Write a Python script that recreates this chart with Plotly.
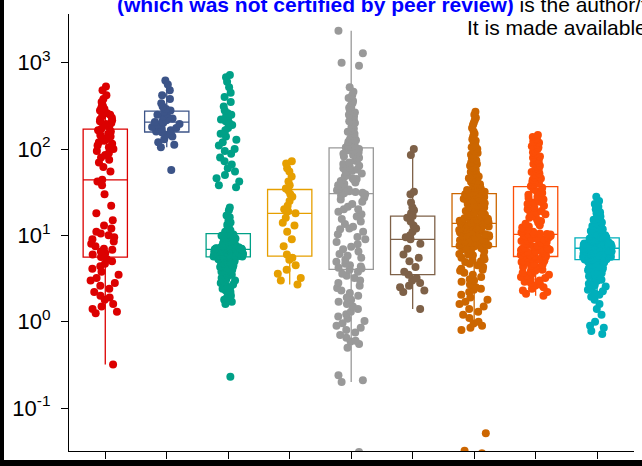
import numpy as np
import plotly.graph_objects as go

# ---------------- data ----------------
groups = ["G1", "G2", "G3", "G4", "G5", "G6", "G7", "G8", "G9"]
colors = ["#DC0000", "#3C5488", "#00A087", "#E69F00", "#999999",
          "#7E6148", "#CC6600", "#FC4E07", "#00AFBB"]

red_vals = [530, 480, 420, 380, 350, 330, 310, 300, 290, 280, 270, 260, 250, 240, 230, 220, 215, 210, 200, 195, 190, 180,
            170, 165, 160, 150, 145, 140, 135, 130, 125, 120, 115, 110, 105, 100, 95, 90, 85, 80, 75, 70, 62, 55, 44,
            42, 38, 30, 22, 18, 15, 13, 12, 11, 10.5, 10, 9.5, 9, 8.5, 8, 7.5, 7, 6.8, 6.5, 6.2, 6, 5.6, 5.3,
            5.0, 4.7, 4.4, 4.1, 3.8, 3.5, 3.2, 3.0, 2.8, 2.6, 2.4, 2.2, 2.0, 1.9, 1.8, 1.6, 1.5, 1.4, 1.3, 1.25, 0.32]

navy_vals = [620, 560, 480, 420, 380, 340, 310, 290, 280, 270, 260, 250, 240, 230, 225, 215, 210, 205, 200, 195,
             190, 180, 175, 170, 165, 160, 155, 150, 145, 140, 130, 120, 112, 105, 57]

green_upper_vals = [720, 680, 600, 520, 450, 400, 350, 310, 280, 260, 250, 240, 230, 220, 210, 200, 190, 175, 165,
                    150, 140, 128, 120, 110, 100, 95, 88, 80, 72, 66, 60, 55, 50, 46, 42, 38, 36]

green_main_vals = [21, 19.5, 17, 16.2, 15, 14.1, 13.3, 12.6, 12, 11.4, 11, 10.6,
                   10.3, 10.1, 9.9, 9.8, 9.6, 9.4, 9.3, 9.1, 9.0, 8.8, 8.7, 8.6, 8.4, 8.3, 8.2, 8.0, 7.9, 7.8, 7.7,
                   7.6, 7.55, 7.5, 7.4, 7.35, 7.3, 7.2, 7.15, 7.1, 7.05, 7.0, 7.0, 6.95, 6.9, 6.9, 6.92,
                   10.4, 10.2, 9.7, 9.5, 9.2, 8.9, 8.5, 8.1, 7.85, 7.65, 7.45, 7.25, 7.08, 6.97,
                   6.88, 6.85, 6.8, 6.78, 6.75, 6.7, 6.65, 6.6, 6.58, 6.55, 6.5, 6.45, 6.4, 6.38, 6.35, 6.3, 6.25,
                   6.2, 6.18, 6.15, 6.1, 6.05, 6.0, 5.98, 5.95, 5.92, 5.9, 5.88, 5.85, 5.82, 5.8, 5.78, 5.75, 5.72,
                   5.7, 5.68, 5.67, 5.66, 5.9, 6.1, 6.3, 6.6, 6.72, 6.48, 6.22, 6.02, 5.86, 5.74, 5.69,
                   5.6, 5.5, 5.4, 5.3, 5.2, 5.1, 5.0, 4.9, 4.8, 4.7, 4.6, 4.5, 4.4, 4.3, 4.2, 4.1, 4.0, 3.9, 3.8,
                   3.7, 3.6, 3.5, 3.4, 3.3, 3.2, 3.1, 3.0, 2.9, 2.8, 2.7, 2.6, 2.5, 2.4, 2.3, 2.2, 2.1, 2.0, 1.9,
                   1.8, 1.7, 1.6, 5.55, 5.45, 5.25, 5.05, 4.75, 4.35, 3.95,
                   0.23]

yellow_vals = [72, 68, 60, 55, 48, 42, 38, 35, 33, 30, 28, 25, 22, 20, 19, 18, 16, 14, 13, 11, 9, 7.5, 6, 5.5,
               5.2, 4.5, 4, 3.6, 3.2, 3, 2.7]

gray_top_vals = [2350, 1290, 1000, 920]

gray_vals = [520, 460, 420, 390, 360, 340, 320, 300, 280, 265, 250, 235, 220, 210, 200, 190,
             180, 172, 165, 158, 150, 143, 137, 131, 126, 121, 117, 113, 110, 108, 107, 300, 240,
             104, 100, 97, 94, 91, 88, 85, 82, 79, 76, 73, 70, 67, 64, 61, 58, 56, 54, 52, 50, 48, 46, 44, 42.5,
             41, 39.5, 38, 37, 36, 35, 34, 33.2, 32.5, 31.8, 31.2, 30.8, 60, 45,
             30, 29, 27.5, 26, 24.5, 23, 21.5, 20, 18.8, 17.6, 16.5, 15.5, 14.5, 13.5, 12.6, 11.8, 11, 10.3, 9.6, 9,
             8.4, 7.9, 7.4, 6.9, 6.5, 6.1, 5.8, 5.5, 5.2, 4.95, 4.7, 4.5, 4.35, 4.2, 4.12, 12, 20,
             4.0, 3.8, 3.6, 3.4, 3.2, 3.0, 2.8, 2.6, 2.45, 2.3, 2.15, 2.0, 1.9, 1.8, 1.7, 1.6, 1.5, 1.4, 1.3, 1.22,
             1.15, 1.08, 1.02, 0.96, 0.9, 0.85, 0.8, 0.75, 0.7, 0.65, 0.6, 0.59, 0.55, 0.5, 0.24, 0.21, 0.2, 0.031]

brown_vals = [1.4, 2.2, 2.3, 2.5, 2.6, 2.8, 3.0, 3.2, 3.5, 3.8, 4.3, 5, 5.5, 6, 7, 8, 9, 9.5, 10, 11, 12, 13,
              14.5, 16, 16.7, 18, 19.5, 21, 24, 30, 32, 85, 100]

orange_vals = [270, 250, 230, 215, 200, 190, 175, 160, 150, 140, 130, 125, 118, 110, 105, 100, 95, 90, 86, 82, 78,
               74, 70, 67, 64, 61, 58, 56, 54, 52, 50, 48, 46, 44.5, 43, 41.5, 40, 39, 38, 37, 36, 35, 34.2, 33.5,
               33, 32.4, 32, 31.5, 31, 30.8,
               30.4, 30, 29.5, 29, 28.4, 27.8, 27.2, 26.6, 26, 25.5, 25, 24.4, 24, 23.5, 23, 22.5, 22, 21.6, 21.2,
               20.8, 20.4, 20, 19.6, 19.2, 18.8, 18.4, 18, 17.7, 17.4, 17.1, 16.8, 16.5, 16.2, 16, 15.8, 15.6, 15.4,
               15.2, 15, 14.8, 14.6, 14.4, 14.2, 14.1, 14, 13.9, 13.85, 17, 21, 26,
               13.7, 13.5, 13.3, 13.1, 12.9, 12.7, 12.5, 12.3, 12.1, 11.9, 11.7, 11.5, 11.3, 11.1, 10.9, 10.7, 10.5,
               10.3, 10.1, 9.9, 9.7, 9.5, 9.3, 9.1, 8.9, 8.8, 8.7, 8.6, 8.5, 8.4, 8.3, 8.2, 8.1, 8.0, 7.9, 7.8, 7.7,
               7.6, 7.5, 7.45, 9, 10, 11, 12, 13, 9.6, 10.8, 11.6, 12.4, 8.25,
               7.3, 7.1, 6.9, 6.7, 6.5, 6.3, 6.1, 5.9, 5.7, 5.5, 5.3, 5.1, 4.9, 4.7, 4.5, 4.3, 4.1, 3.9, 3.7, 3.5,
               3.3, 3.1, 2.9, 2.7, 2.5, 2.35, 2.2, 2.05, 1.9, 1.8, 1.7, 1.6, 1.5, 1.4, 1.3, 1.2, 1.1, 1.0, 0.95,
               0.9, 0.85, 0.8, 6.0, 5.0, 4.0, 3.0, 0.051, 0.032, 0.03, 2.4]

orangered_vals = [145, 138, 132, 128, 122, 118, 112, 108, 104, 100, 96, 92, 88, 85, 82, 79, 76, 73, 70, 67, 64, 62,
                  60, 58, 56, 54, 52, 50, 48.5, 47, 45.5, 44, 42.5, 41.5, 40.5, 39.5, 38.5,
                  37, 35.5, 34, 32.5, 31, 29.5, 28, 27, 26, 25, 24, 23, 22, 21, 20, 19.2, 18.4, 17.6, 16.8, 16, 15.3,
                  14.7, 14.1, 13.6, 13.1, 12.7, 12.3, 11.9, 11.6, 11.3, 11, 10.8, 10.6, 10.5, 10.4, 10.35, 24.5, 18,
                  10.2, 10.0, 9.8, 9.6, 9.4, 9.2, 9.0, 8.8, 8.6, 8.4, 8.2, 8.0, 7.8, 7.6, 7.4, 7.2, 7.0, 6.9, 6.8,
                  6.7, 6.6, 6.5, 6.4, 6.3, 6.2, 6.1, 6.0, 5.95, 5.9, 5.85, 5.8, 5.75, 5.7, 5.68, 9.1, 8.1, 7.1, 6.35,
                  5.6, 5.5, 5.4, 5.3, 5.2, 5.1, 5.0, 4.9, 4.8, 4.7, 4.6, 4.5, 4.4, 4.3, 4.2, 4.1, 4.0, 3.9, 3.8, 3.7,
                  3.6, 3.5, 3.4, 3.3, 3.2, 3.1, 3.0, 2.9, 2.8, 2.7, 2.6, 2.5, 2.4, 2.3, 2.2, 2.1, 2.0]

cyan_vals = [28, 25, 23, 21.5, 20, 19, 18, 17.2, 16.5, 15.8, 15.2, 14.6, 14.1, 13.6, 13.2, 12.8, 12.4, 12.1, 11.8,
             11.5, 11.2, 11, 10.8, 10.6, 10.4, 10.25, 10.1, 10, 9.9, 9.8, 9.7, 9.62, 9.55, 9.5, 9.45, 12, 13, 14,
             15, 16.8, 18.5, 22,
             9.35, 9.3, 9.25, 9.2, 9.1, 9.0, 8.95, 8.9, 8.8, 8.7, 8.6, 8.55, 8.5, 8.4, 8.3, 8.2, 8.15, 8.1, 8.0,
             7.95, 7.9, 7.85, 7.8, 7.75, 7.7, 7.65, 7.6, 7.55, 7.5, 7.45, 7.4, 7.35, 7.3, 7.25, 7.2, 7.15, 7.12,
             8.65, 8.35, 8.05, 7.82, 7.58, 7.28,
             7.05, 7.0, 6.95, 6.9, 6.85, 6.8, 6.75, 6.7, 6.65, 6.6, 6.55, 6.5, 6.45, 6.4, 6.35, 6.3, 6.25, 6.2,
             6.15, 6.1, 6.05, 6.0, 5.95, 5.9, 5.85, 5.8, 5.75, 5.7, 5.65, 5.6, 5.55, 5.5, 5.45, 5.4, 5.35, 5.3,
             5.27, 5.24, 5.22, 6.48, 6.12, 5.88, 5.52,
             5.15, 5.05, 4.95, 4.85, 4.75, 4.65, 4.55, 4.45, 4.35, 4.25, 4.15, 4.05, 3.95, 3.85, 3.75, 3.65, 3.55,
             3.45, 3.35, 3.25, 3.15, 3.05, 2.95, 2.85, 2.75, 2.65, 2.55, 2.45, 2.35, 2.25, 2.15, 2.05, 1.95, 1.8,
             1.6, 1.4, 1.2, 1.0, 0.9, 0.85, 0.78, 0.72]

# each group may be made of several point clouds (drawn as separate jitter layers)
group_parts = [
    [red_vals],
    [navy_vals],
    [green_upper_vals, green_main_vals],
    [yellow_vals],
    [gray_top_vals, gray_vals],
    [brown_vals],
    [orange_vals],
    [orangered_vals],
    [cyan_vals],
]

y_tick_vals = [0.1, 1, 10, 100, 1000]
y_tick_text = ["10<sup>-1</sup>", "10<sup>0</sup>", "10<sup>1</sup>", "10<sup>2</sup>", "10<sup>3</sup>"]

header_line1 = ('<b><span style="color:#0000FF">(which was not certified by peer review)</span></b>'
                ' is the author/funder, who has granted')
header_line2 = "It is made available under a CC-BY-NC-ND 4.0 International license."


def box_stats(v):
    """ggplot-style box statistics computed on log10 scale."""
    lv = np.log10(np.asarray(v, dtype=float))
    q1, med, q3 = np.quantile(lv, [0.25, 0.5, 0.75])
    iqr = q3 - q1
    lo = lv[lv >= q1 - 1.5 * iqr].min()
    hi = lv[lv <= q3 + 1.5 * iqr].max()
    return [10 ** q1, 10 ** med, 10 ** q3, 10 ** lo, 10 ** hi]


positions = list(range(1, len(groups) + 1))
BOX_W = 0.72

fig = go.Figure()

# boxes (stats from all data of each group)
for pos, name, col, parts in zip(positions, groups, colors, group_parts):
    allv = [v for p in parts for v in p]
    q1, med, q3, lo, hi = box_stats(allv)
    fig.add_trace(go.Box(
        x=[pos], q1=[q1], median=[med], q3=[q3], lowerfence=[lo], upperfence=[hi],
        name=name, width=BOX_W, whiskerwidth=0, boxpoints=False,
        fillcolor="white", line=dict(color=col, width=1.3),
        hoverinfo="skip", showlegend=False,
    ))

# jittered points on top
for pos, name, col, parts in zip(positions, groups, colors, group_parts):
    for part in parts:
        fig.add_trace(go.Box(
            y=part, x0=pos, name=name, width=BOX_W,
            boxpoints="all", jitter=0.68, pointpos=0,
            fillcolor="rgba(0,0,0,0)", line=dict(color="rgba(0,0,0,0)", width=0),
            whiskerwidth=0,
            marker=dict(color=col, size=8, opacity=1, line=dict(width=0)),
            hoverinfo="skip", showlegend=False,
        ))

L, R, T, B = 69, 8, 14, 15
W = 642 - L - R
H = 466 - T - B

fig.update_layout(
    width=642, height=466,
    margin=dict(l=L, r=R, t=T, b=B, autoexpand=False),
    paper_bgcolor="white", plot_bgcolor="white",
    boxmode="overlay",
    font=dict(family="Liberation Sans, Arial, sans-serif", color="black"),
    xaxis=dict(
        range=[0.41, 9.6], tickvals=positions, ticktext=[""] * len(positions),
        showgrid=False, zeroline=False, showline=True, linecolor="black", linewidth=1.2,
        ticks="outside", ticklen=7, tickwidth=1.2, tickcolor="black",
    ),
    yaxis=dict(
        type="log", range=[-1.498, 3.564],
        tickvals=y_tick_vals, ticktext=y_tick_text,
        tickfont=dict(size=22, color="black"),
        showgrid=False, zeroline=False, showline=True, linecolor="black", linewidth=1.2,
        ticks="outside", ticklen=7, tickwidth=1.2, tickcolor="black",
        ticklabelstandoff=6,
    ),
    shapes=[
        # black page borders from the source document
        dict(type="rect", xref="paper", yref="paper",
             x0=-0.2, x1=(4 - L) / W, y0=-0.2, y1=1.2,
             fillcolor="black", line=dict(width=0), layer="above"),
        dict(type="rect", xref="paper", yref="paper",
             x0=-0.2, x1=1.2, y0=-0.2, y1=1 - (460 - T) / H,
             fillcolor="black", line=dict(width=0), layer="above"),
    ],
    annotations=[
        dict(text=header_line1, xref="paper", yref="paper",
             x=(115 - L) / W, y=(H + T - 5) / H, xanchor="left", yanchor="middle",
             showarrow=False, font=dict(size=21, color="black")),
        dict(text=header_line2, xref="paper", yref="paper",
             x=(465 - L) / W, y=(H + T - 27) / H, xanchor="left", yanchor="middle",
             showarrow=False, font=dict(size=21, color="black")),
    ],
)

fig.write_html("out.html")
